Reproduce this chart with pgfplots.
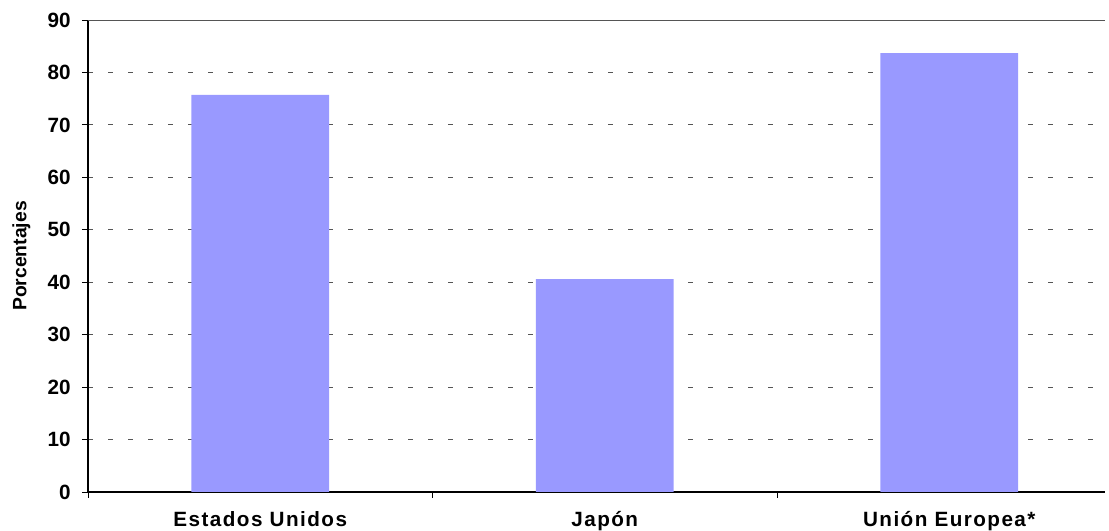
\documentclass[border=0pt]{standalone}
\usepackage{pgfplots}
\pgfplotsset{compat=1.18}
\usepackage{fontspec}
\setmainfont{Liberation Sans}
\definecolor{barblue}{HTML}{9999FF}
\definecolor{gridgray}{HTML}{555555}

\begin{document}
\begin{tikzpicture}
    \begin{axis}[
            at={(0,0)}, anchor=south west,
            scale only axis,
            width=762.75pt,
            height=354pt,
            xmin=-0.5, xmax=2.452,
            ymin=0, ymax=90,
            axis lines*=left,
            axis line style={black, line width=0.9pt},
            xtick={-0.5,0.5,1.5},
            xticklabels={},
            extra x ticks={0,1,2},
            extra x tick labels={Estados Unidos, Japón, Unión Europea*},
            extra x tick style={major tick length=0pt, grid=none,
                    xticklabel style={yshift=-11pt}},
            ytick={0,10,...,90},
            tick align=outside,
            major tick length=4.5pt,
            tick style={black, line width=0.6pt},
            ymajorgrids,
            major grid style={gridgray, line width=0.7pt, dash pattern=on 3.75pt off 11.25pt},
            yticklabel style={font=\fontsize{15.5}{18}\selectfont\bfseries, xshift=-5pt},
            xticklabel style={font=\fontsize{15.5}{18}\selectfont\bfseries\addfontfeatures{LetterSpace=7}},
            /pgf/number format/assume math mode=true,
            ylabel={Porcentajes},
            ylabel style={at={(axis description cs:0,0.5)}, anchor=center, xshift=0pt, yshift=50pt,
                    font=\fontsize{14.5}{16}\selectfont\bfseries},
            ybar, bar width=0.4,
        ]
        \addplot[fill=barblue, draw=none] coordinates {(0,75.7) (1,40.6) (2,83.7)};
        \draw[gridgray, line width=0.6pt] (rel axis cs:0,1) -- (rel axis cs:1,1);
    \end{axis}
    \pgfresetboundingbox
    \path[use as bounding box] (-66pt,-29.25pt) rectangle (765.75pt,369pt);
\end{tikzpicture}
\end{document}
